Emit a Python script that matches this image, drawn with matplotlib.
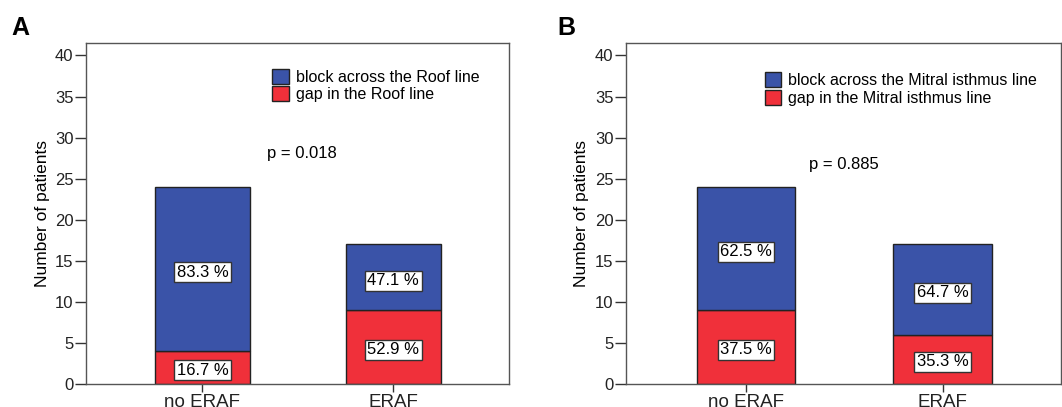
import matplotlib.pyplot as plt

# data
groups = ["no ERAF", "ERAF"]

roof_block = [20, 8]
roof_gap = [4, 9]
roof_block_pct = ["83.3 %", "47.1 %"]
roof_gap_pct = ["16.7 %", "52.9 %"]

mitral_block = [15, 11]
mitral_gap = [9, 6]
mitral_block_pct = ["62.5 %", "64.7 %"]
mitral_gap_pct = ["37.5 %", "35.3 %"]

blue = "#3a53a8"
red = "#f0303a"

plt.rcParams['font.family'] = ['Liberation Sans', 'DejaVu Sans']

fig = plt.figure(figsize=(10.62, 4.07), dpi=100)


def draw_panel(ax, block, gap, block_pct, gap_pct, names, pval, p_xy, leg_xy):
    x = range(len(groups))
    ax.bar(x, gap, width=0.5, color=red, edgecolor="#222222", linewidth=1, label=names[1])
    ax.bar(x, block, width=0.5, bottom=gap, color=blue, edgecolor="#222222", linewidth=1,
           label=names[0])
    box = dict(boxstyle="square,pad=0.15", facecolor="white", edgecolor="#333333", linewidth=1)
    for i in x:
        ax.text(i, gap[i] / 2 - 0.3, gap_pct[i], ha="center", va="center", fontsize=12, bbox=box)
        ax.text(i, gap[i] + block[i] / 2 - 0.4, block_pct[i], ha="center", va="center",
                fontsize=12, bbox=box)
    ax.set_xlim(-0.61, 1.605)
    ax.set_ylim(0, 41.5)
    ax.set_yticks(range(0, 41, 5))
    ax.set_xticks(list(x))
    ax.set_xticklabels(groups, fontsize=13.5)
    ax.tick_params(axis="y", labelsize=12, length=8, width=1, pad=1, colors="#333333",
                   labelcolor="#222222")
    ax.tick_params(axis="x", length=6, width=1, pad=1, colors="#333333", labelcolor="#222222")
    ax.set_ylabel("Number of patients", fontsize=12.5)
    ax.yaxis.set_label_coords(-0.085, 0.5)
    for s in ax.spines.values():
        s.set_color("#555555")
        s.set_linewidth(1)
    ax.text(p_xy[0], p_xy[1], pval, fontsize=12, transform=ax.transAxes, va="center")
    handles, labels = ax.get_legend_handles_labels()
    ax.legend(handles[::-1], labels[::-1], loc="upper left", bbox_to_anchor=leg_xy,
              frameon=False, fontsize=11.5, handlelength=1.05, handleheight=1.05,
              handletextpad=0.45, labelspacing=0.12, borderpad=0, borderaxespad=0)


axA = fig.add_axes([0.081, 0.0565, 0.398, 0.8375])
draw_panel(axA, roof_block, roof_gap, roof_block_pct, roof_gap_pct,
           ["block across the Roof line", "gap in the Roof line"],
           "p = 0.018", (0.427, 0.675), (0.44, 0.925))

axB = fig.add_axes([0.5895, 0.0565, 0.41, 0.8375])
draw_panel(axB, mitral_block, mitral_gap, mitral_block_pct, mitral_gap_pct,
           ["block across the Mitral isthmus line", "gap in the Mitral isthmus line"],
           "p = 0.885", (0.42, 0.643), (0.318, 0.915))

fig.text(0.011, 0.93, "A", fontsize=18, fontweight="bold", va="center")
fig.text(0.525, 0.93, "B", fontsize=18, fontweight="bold", va="center")

fig.savefig("out.png", dpi=100)
